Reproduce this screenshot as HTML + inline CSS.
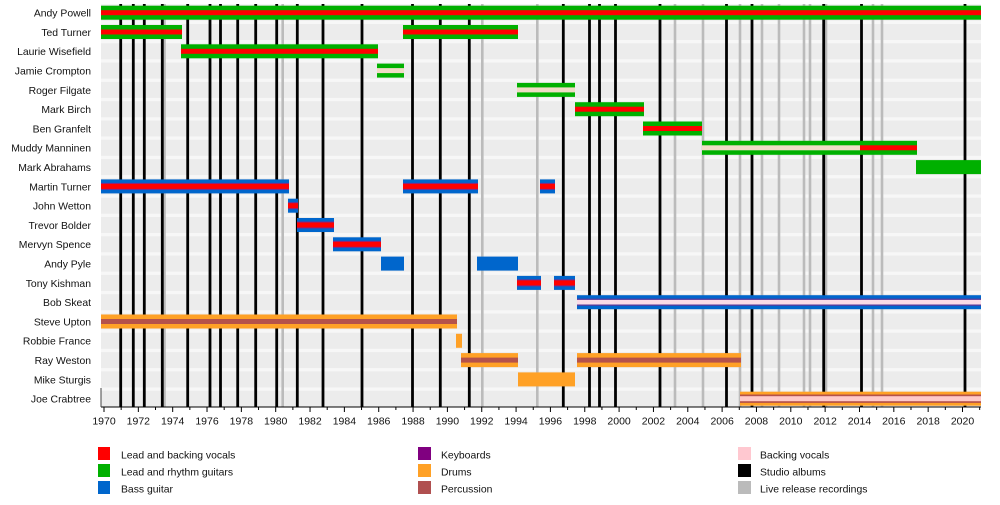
<!DOCTYPE html>
<html><head><meta charset="utf-8"><style>
html,body{margin:0;padding:0;background:#fff;}
svg{display:block;font-family:"Liberation Sans",Arial,sans-serif;}
</style></head><body>
<svg width="1000" height="505" viewBox="0 0 1000 505" xmlns="http://www.w3.org/2000/svg">
<rect x="0" y="0" width="1000" height="505" fill="#fff"/>
<rect x="101" y="4" width="880" height="403" fill="#f7f7f7"/>
<g fill="#ececec">
<rect x="101" y="4.7" width="880" height="16"/>
<rect x="101" y="24" width="880" height="16"/>
<rect x="101" y="43.3" width="880" height="16"/>
<rect x="101" y="62.6" width="880" height="16"/>
<rect x="101" y="81.9" width="880" height="16"/>
<rect x="101" y="101.2" width="880" height="16"/>
<rect x="101" y="120.5" width="880" height="16"/>
<rect x="101" y="139.8" width="880" height="16"/>
<rect x="101" y="159.1" width="880" height="16"/>
<rect x="101" y="178.4" width="880" height="16"/>
<rect x="101" y="197.7" width="880" height="16"/>
<rect x="101" y="217" width="880" height="16"/>
<rect x="101" y="236.3" width="880" height="16"/>
<rect x="101" y="255.6" width="880" height="16"/>
<rect x="101" y="274.9" width="880" height="16"/>
<rect x="101" y="294.2" width="880" height="16"/>
<rect x="101" y="313.5" width="880" height="16"/>
<rect x="101" y="332.8" width="880" height="16"/>
<rect x="101" y="352.1" width="880" height="16"/>
<rect x="101" y="371.4" width="880" height="16"/>
<rect x="101" y="390.7" width="880" height="16"/>
</g>
<!-- live recordings -->
<g stroke="#bbbbbb" stroke-width="2.6">
<line x1="164.5" y1="4" x2="164.5" y2="407"/>
<line x1="282.7" y1="4" x2="282.7" y2="407"/>
<line x1="482.3" y1="4" x2="482.3" y2="407"/>
<line x1="537.3" y1="4" x2="537.3" y2="407"/>
<line x1="675" y1="4" x2="675" y2="407"/>
<line x1="703" y1="4" x2="703" y2="407"/>
<line x1="740" y1="4" x2="740" y2="407"/>
<line x1="762" y1="4" x2="762" y2="407"/>
<line x1="779" y1="4" x2="779" y2="407"/>
<line x1="804" y1="4" x2="804" y2="407"/>
<line x1="810" y1="4" x2="810" y2="407"/>
<line x1="826" y1="4" x2="826" y2="407"/>
<line x1="873" y1="4" x2="873" y2="407"/>
<line x1="882" y1="4" x2="882" y2="407"/>
</g>
<!-- studio albums -->
<g stroke="#000" stroke-width="2.8">
<line x1="120.7" y1="4" x2="120.7" y2="407"/>
<line x1="133.3" y1="4" x2="133.3" y2="407"/>
<line x1="144.3" y1="4" x2="144.3" y2="407"/>
<line x1="162.3" y1="4" x2="162.3" y2="407"/>
<line x1="187.7" y1="4" x2="187.7" y2="407"/>
<line x1="210" y1="4" x2="210" y2="407"/>
<line x1="220.5" y1="4" x2="220.5" y2="407"/>
<line x1="237.7" y1="4" x2="237.7" y2="407"/>
<line x1="255.7" y1="4" x2="255.7" y2="407"/>
<line x1="276.7" y1="4" x2="276.7" y2="407"/>
<line x1="297.3" y1="4" x2="297.3" y2="407"/>
<line x1="323" y1="4" x2="323" y2="407"/>
<line x1="362" y1="4" x2="362" y2="407"/>
<line x1="412.5" y1="4" x2="412.5" y2="407"/>
<line x1="440.3" y1="4" x2="440.3" y2="407"/>
<line x1="469.3" y1="4" x2="469.3" y2="407"/>
<line x1="563.3" y1="4" x2="563.3" y2="407"/>
<line x1="589.5" y1="4" x2="589.5" y2="407"/>
<line x1="599.5" y1="4" x2="599.5" y2="407"/>
<line x1="615.5" y1="4" x2="615.5" y2="407"/>
<line x1="660" y1="4" x2="660" y2="407"/>
<line x1="726.5" y1="4" x2="726.5" y2="407"/>
<line x1="752" y1="4" x2="752" y2="407"/>
<line x1="823.7" y1="4" x2="823.7" y2="407"/>
<line x1="861.5" y1="4" x2="861.5" y2="407"/>
<line x1="965" y1="4" x2="965" y2="407"/>
</g>

<!-- bars -->
<g transform="translate(0,12.7)">
<rect x="101" y="-7" width="880" height="14" fill="#00b000"/>
<rect x="101" y="-2.5" width="880" height="5" fill="#ff0000"/>
</g>
<g transform="translate(0,32)">
<rect x="101" y="-7" width="81" height="14" fill="#00b000"/>
<rect x="101" y="-2.5" width="81" height="5" fill="#ff0000"/>
<rect x="403" y="-7" width="115" height="14" fill="#00b000"/>
<rect x="403" y="-2.5" width="115" height="5" fill="#ff0000"/>
</g>
<g transform="translate(0,51.3)">
<rect x="181" y="-7" width="197" height="14" fill="#00b000"/>
<rect x="181" y="-2.5" width="197" height="5" fill="#ff0000"/>
</g>
<g transform="translate(0,70.6)">
<rect x="377" y="-7" width="27" height="14" fill="#00b000"/>
<rect x="377" y="-2.5" width="27" height="5" fill="#f0dcc6"/>
</g>
<g transform="translate(0,89.9)">
<rect x="517" y="-7" width="58" height="14" fill="#00b000"/>
<rect x="517" y="-2.5" width="58" height="5" fill="#f0dcc6"/>
</g>
<g transform="translate(0,109.2)">
<rect x="575" y="-7" width="69" height="14" fill="#00b000"/>
<rect x="575" y="-2.5" width="69" height="5" fill="#ff0000"/>
</g>
<g transform="translate(0,128.5)">
<rect x="643" y="-7" width="59" height="14" fill="#00b000"/>
<rect x="643" y="-2.5" width="59" height="5" fill="#ff0000"/>
</g>
<g transform="translate(0,147.8)">
<rect x="702" y="-7" width="215" height="14" fill="#00b000"/>
<rect x="702" y="-2.5" width="158" height="5" fill="#f0dcc6"/>
<rect x="860" y="-2.5" width="57" height="5" fill="#ff0000"/>
</g>
<g transform="translate(0,167.1)">
<rect x="916" y="-7" width="65" height="14" fill="#00b000"/>
</g>
<g transform="translate(0,186.4)">
<rect x="101" y="-7" width="188" height="14" fill="#0066cc"/>
<rect x="101" y="-3.5" width="188" height="7" fill="#7a2a8a"/>
<rect x="101" y="-2.5" width="188" height="5" fill="#ff0000"/>
<rect x="403" y="-7" width="75" height="14" fill="#0066cc"/>
<rect x="403" y="-3.5" width="75" height="7" fill="#7a2a8a"/>
<rect x="403" y="-2.5" width="75" height="5" fill="#ff0000"/>
<rect x="540" y="-7" width="15" height="14" fill="#0066cc"/>
<rect x="540" y="-3.5" width="15" height="7" fill="#7a2a8a"/>
<rect x="540" y="-2.5" width="15" height="5" fill="#ff0000"/>
</g>
<g transform="translate(0,205.7)">
<rect x="288" y="-7" width="10" height="14" fill="#0066cc"/>
<rect x="288" y="-3.5" width="10" height="7" fill="#7a2a8a"/>
<rect x="288" y="-2.5" width="10" height="5" fill="#ff0000"/>
</g>
<g transform="translate(0,225)">
<rect x="297" y="-7" width="37" height="14" fill="#0066cc"/>
<rect x="297" y="-3.5" width="37" height="7" fill="#7a2a8a"/>
<rect x="297" y="-2.5" width="37" height="5" fill="#ff0000"/>
</g>
<g transform="translate(0,244.3)">
<rect x="333" y="-7" width="48" height="14" fill="#0066cc"/>
<rect x="333" y="-3.5" width="48" height="7" fill="#7a2a8a"/>
<rect x="333" y="-2.5" width="48" height="5" fill="#ff0000"/>
</g>
<g transform="translate(0,263.6)">
<rect x="381" y="-7" width="23" height="14" fill="#0066cc"/>
<rect x="477" y="-7" width="41" height="14" fill="#0066cc"/>
</g>
<g transform="translate(0,282.9)">
<rect x="517" y="-7" width="24" height="14" fill="#0066cc"/>
<rect x="517" y="-3.5" width="24" height="7" fill="#7a2a8a"/>
<rect x="517" y="-2.5" width="24" height="5" fill="#ff0000"/>
<rect x="554" y="-7" width="21" height="14" fill="#0066cc"/>
<rect x="554" y="-3.5" width="21" height="7" fill="#7a2a8a"/>
<rect x="554" y="-2.5" width="21" height="5" fill="#ff0000"/>
</g>
<g transform="translate(0,302.2)">
<rect x="577" y="-7" width="404" height="14" fill="#0066cc"/>
<rect x="577" y="-3.6" width="404" height="7.2" fill="#5a3a9a"/>
<rect x="577" y="-2.3" width="404" height="4.6" fill="#fadbe6"/>
</g>
<g transform="translate(0,321.5)">
<rect x="101" y="-7" width="356" height="14" fill="#ffa126"/>
<rect x="101" y="-2.5" width="356" height="5" fill="#b5524a"/>
</g>
<g transform="translate(0,340.8)">
<rect x="456" y="-7" width="6" height="14" fill="#ffa126"/>
</g>
<g transform="translate(0,360.1)">
<rect x="461" y="-7" width="57" height="14" fill="#ffa126"/>
<rect x="461" y="-2.5" width="57" height="5" fill="#b5524a"/>
<rect x="577" y="-7" width="164" height="14" fill="#ffa126"/>
<rect x="577" y="-2.5" width="164" height="5" fill="#b5524a"/>
</g>
<g transform="translate(0,379.4)">
<rect x="518" y="-7" width="57" height="14" fill="#ffa126"/>
</g>
<g transform="translate(0,398.7)">
<rect x="740" y="-7" width="241" height="14" fill="#ffa126"/>
<rect x="740" y="-4.2" width="241" height="8.4" fill="#b5524a"/>
<rect x="740" y="-2.5" width="241" height="5" fill="#ffc8c8"/>
</g>

<!-- axis -->
<line x1="101" y1="407" x2="981" y2="407" stroke="#000" stroke-width="1"/>
<line x1="101" y1="388" x2="101" y2="407" stroke="#444" stroke-width="1"/>
<path stroke="#000" stroke-width="1" fill="none" d="
M104,407V412 M121.17,407V410 M138.34,407V412 M155.51,407V410 M172.68,407V412 M189.85,407V410
M207.02,407V412 M224.19,407V410 M241.36,407V412 M258.53,407V410 M275.7,407V412 M292.87,407V410
M310.04,407V412 M327.21,407V410 M344.38,407V412 M361.55,407V410 M378.72,407V412 M395.89,407V410
M413.06,407V412 M430.23,407V410 M447.4,407V412 M464.57,407V410 M481.74,407V412 M498.91,407V410
M516.08,407V412 M533.25,407V410 M550.42,407V412 M567.59,407V410 M584.76,407V412 M601.93,407V410
M619.1,407V412 M636.27,407V410 M653.44,407V412 M670.61,407V410 M687.78,407V412 M704.95,407V410
M722.12,407V412 M739.29,407V410 M756.46,407V412 M773.63,407V410 M790.8,407V412 M807.97,407V410
M825.14,407V412 M842.31,407V410 M859.48,407V412 M876.65,407V410 M893.82,407V412 M910.99,407V410
M928.16,407V412 M945.33,407V410 M962.5,407V412 M979.67,407V410"/>
<g font-size="10.5" fill="#111" text-anchor="middle">
<text x="104" y="424.5">1970</text>
<text x="138.34" y="424.5">1972</text>
<text x="172.68" y="424.5">1974</text>
<text x="207.02" y="424.5">1976</text>
<text x="241.36" y="424.5">1978</text>
<text x="275.7" y="424.5">1980</text>
<text x="310.04" y="424.5">1982</text>
<text x="344.38" y="424.5">1984</text>
<text x="378.72" y="424.5">1986</text>
<text x="413.06" y="424.5">1988</text>
<text x="447.4" y="424.5">1990</text>
<text x="481.74" y="424.5">1992</text>
<text x="516.08" y="424.5">1994</text>
<text x="550.42" y="424.5">1996</text>
<text x="584.76" y="424.5">1998</text>
<text x="619.1" y="424.5">2000</text>
<text x="653.44" y="424.5">2002</text>
<text x="687.78" y="424.5">2004</text>
<text x="722.12" y="424.5">2006</text>
<text x="756.46" y="424.5">2008</text>
<text x="790.8" y="424.5">2010</text>
<text x="825.14" y="424.5">2012</text>
<text x="859.48" y="424.5">2014</text>
<text x="893.82" y="424.5">2016</text>
<text x="928.16" y="424.5">2018</text>
<text x="962.5" y="424.5">2020</text>
</g>

<!-- row labels -->
<g font-size="10.4" fill="#111" text-anchor="end">
<text x="91" y="16.6">Andy Powell</text>
<text x="91" y="35.9">Ted Turner</text>
<text x="91" y="55.2">Laurie Wisefield</text>
<text x="91" y="74.5">Jamie Crompton</text>
<text x="91" y="93.8">Roger Filgate</text>
<text x="91" y="113.1">Mark Birch</text>
<text x="91" y="132.4">Ben Granfelt</text>
<text x="91" y="151.7">Muddy Manninen</text>
<text x="91" y="171">Mark Abrahams</text>
<text x="91" y="190.3">Martin Turner</text>
<text x="91" y="209.6">John Wetton</text>
<text x="91" y="228.9">Trevor Bolder</text>
<text x="91" y="248.2">Mervyn Spence</text>
<text x="91" y="267.5">Andy Pyle</text>
<text x="91" y="286.8">Tony Kishman</text>
<text x="91" y="306.1">Bob Skeat</text>
<text x="91" y="325.4">Steve Upton</text>
<text x="91" y="344.7">Robbie France</text>
<text x="91" y="364">Ray Weston</text>
<text x="91" y="383.3">Mike Sturgis</text>
<text x="91" y="402.6">Joe Crabtree</text>
</g>

<!-- legend -->
<rect x="98" y="447" width="12" height="13" fill="#ff0000"/>
<rect x="98" y="464" width="12" height="13" fill="#00b000"/>
<rect x="98" y="481" width="12" height="13" fill="#0066cc"/>
<rect x="418" y="447" width="13" height="13" fill="#800080"/>
<rect x="418" y="464" width="13" height="13" fill="#ffa126"/>
<rect x="418" y="481" width="13" height="13" fill="#b05050"/>
<rect x="738" y="447" width="13" height="13" fill="#ffc8d0"/>
<rect x="738" y="464" width="13" height="13" fill="#000"/>
<rect x="738" y="481" width="13" height="13" fill="#bbbbbb"/>
<g font-size="10.4" fill="#111">
<text x="121" y="458.5">Lead and backing vocals</text>
<text x="121" y="475.5">Lead and rhythm guitars</text>
<text x="121" y="492.5">Bass guitar</text>
<text x="441" y="458.5">Keyboards</text>
<text x="441" y="475.5">Drums</text>
<text x="441" y="492.5">Percussion</text>
<text x="760" y="458.5">Backing vocals</text>
<text x="760" y="475.5">Studio albums</text>
<text x="760" y="492.5">Live release recordings</text>
</g>
</svg>
</body></html>
